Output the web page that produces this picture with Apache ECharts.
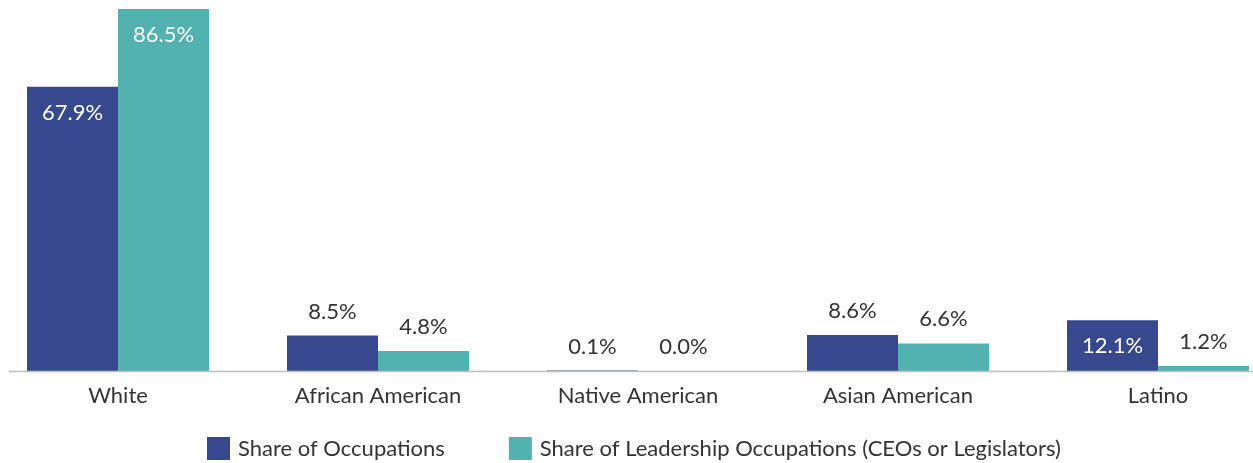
<!DOCTYPE html>
<html>
<head>
<meta charset="utf-8">
<script src="https://cdn.jsdelivr.net/npm/echarts@6/dist/echarts.min.js"></script>
<style>
  html, body { margin: 0; padding: 0; background: #fff; overflow: hidden; width: 1253px; height: 463px; position: relative; }
  #main { width: 1300px; height: 463px; position: absolute; left: -12px; top: 0; }
</style>
</head>
<body>
<div id="main"></div>
<script>
var categories = ["White", "African American", "Native American", "Asian American", "Latino"];
var shareOccupations = [67.9, 8.5, 0.1, 8.6, 12.1];
var shareLeadership = [86.5, 4.8, 0.0, 6.6, 1.2];
// which bars carry their label inside
var occInside = [true, false, false, false, true];
var leadInside = [true, false, false, false, false];

var FONT = "Lato";
var textColor = "#333333";

function toData(values, inside) {
  return values.map(function (v, i) {
    var item = { value: v };
    if (inside[i]) {
      item.label = { position: "insideTop", distance: 15, color: "#ffffff" };
    }
    return item;
  });
}

var myChart = echarts.init(document.getElementById("main"));
var option = {
  animation: false,
  textStyle: { fontFamily: FONT },
  grid: { left: 0, right: 0, top: 9, bottom: 92, containLabel: false },
  legend: {
    top: 432,
    left: 214,
    itemWidth: 23,
    itemHeight: 23,
    itemGap: 64,
    icon: "rect",
    textStyle: { fontFamily: FONT, fontSize: 22, color: textColor, padding: [0, 0, 0, 3] },
    data: ["Share of Occupations", "Share of Leadership Occupations (CEOs or Legislators)"]
  },
  xAxis: {
    type: "category",
    data: categories,
    axisLine: { show: false },
    axisTick: { show: false },
    axisLabel: { fontFamily: FONT, fontSize: 22, color: textColor, margin: 14 }
  },
  yAxis: {
    type: "value",
    min: 0,
    max: 86.5,
    show: false,
    splitLine: { show: false }
  },
  graphic: [{
    type: "line",
    shape: { x1: 21, y1: 371.5, x2: 1300, y2: 371.5 },
    style: { stroke: "#bfbfbf", lineWidth: 1.5 },
    z: 100
  }],
  series: [
    {
      name: "Share of Occupations",
      type: "bar",
      barWidth: 91,
      barGap: "0%",
      itemStyle: { color: "#37488f" },
      label: {
        show: true, position: "top", distance: 13,
        fontFamily: FONT, fontSize: 22, color: textColor,
        formatter: function (p) { return p.value.toFixed(1) + "%"; }
      },
      data: toData(shareOccupations, occInside)
    },
    {
      name: "Share of Leadership Occupations (CEOs or Legislators)",
      type: "bar",
      barWidth: 91,
      barGap: "0%",
      itemStyle: { color: "#52b2b0" },
      label: {
        show: true, position: "top", distance: 13,
        fontFamily: FONT, fontSize: 22, color: textColor,
        formatter: function (p) { return p.value.toFixed(1) + "%"; }
      },
      data: toData(shareLeadership, leadInside)
    }
  ]
};
myChart.setOption(option);
</script>
</body>
</html>
